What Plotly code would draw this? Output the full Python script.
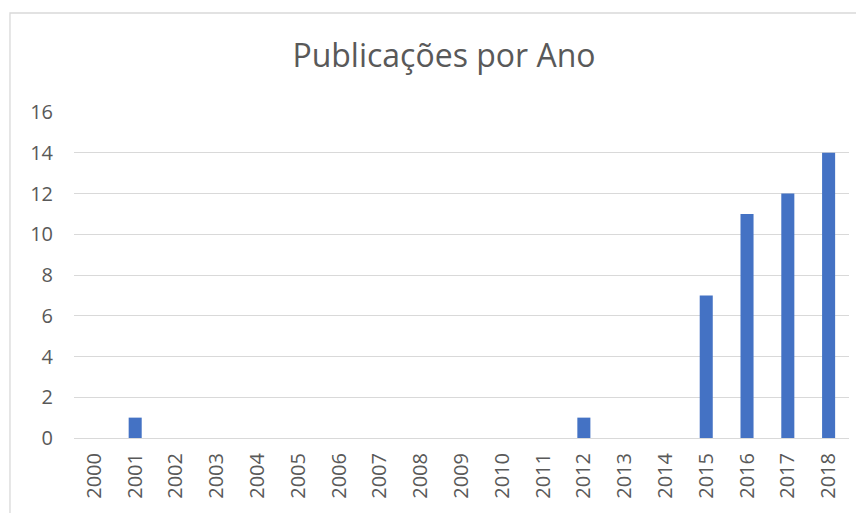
import plotly.graph_objects as go

years = [str(y) for y in range(2000, 2019)]
counts = [0, 1, 0, 0, 0, 0, 0, 0, 0, 0, 0, 0, 1, 0, 0, 7, 11, 12, 14]
title_text = "Publicações por Ano"
y_ticks = [0, 2, 4, 6, 8, 10, 12, 14, 16]

font_family = "Open Sans"
text_color = "#595959"
grid_color = "#d9d9d9"
bar_color = "#4472C4"

fig = go.Figure(go.Bar(x=years, y=counts, marker=dict(color=bar_color, line=dict(width=0))))

fig.update_layout(
    width=864, height=513,
    margin=dict(l=66, r=23, t=104, b=83),
    paper_bgcolor="white", plot_bgcolor="white",
    bargap=0.68,
    showlegend=False,
    title=dict(text=title_text, x=0.5046, xanchor="center", y=0.906, yanchor="middle",
               font=dict(family=font_family, size=32, color=text_color)),
    font=dict(family=font_family, color=text_color),
)
fig.update_xaxes(
    type="category", tickangle=-90, tickfont=dict(size=20, color=text_color),
    showgrid=False, showline=False, ticks="", ticklabelstandoff=10,
)
fig.update_yaxes(
    range=[0, 16], tickvals=y_ticks, tickfont=dict(size=20, color=text_color),
    showgrid=True, gridcolor=grid_color, gridwidth=1.3,
    zeroline=True, zerolinecolor=grid_color, zerolinewidth=1.3,
    showline=False, ticks="", ticklabelstandoff=20,
)
fig.add_shape(type="rect", xref="paper", yref="paper",
              x0=-0.0826, x1=1.05, y0=-0.35, y1=1.3037,
              line=dict(color=grid_color, width=1.3), fillcolor="rgba(0,0,0,0)", layer="below")

fig.write_html("out.html")
